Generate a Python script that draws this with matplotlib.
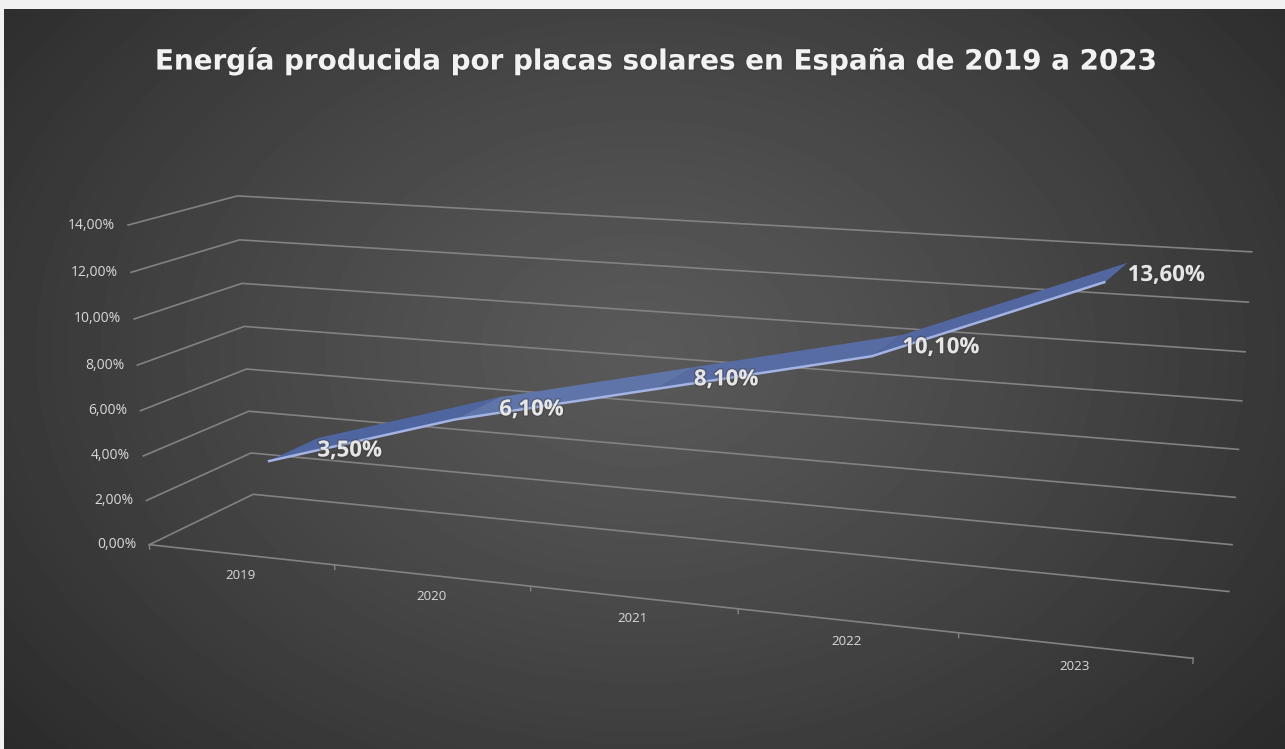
import matplotlib
matplotlib.use("Agg")
import matplotlib.pyplot as plt
import matplotlib.patheffects as pe
from matplotlib.patches import Polygon
import numpy as np

years = ["2019", "2020", "2021", "2022", "2023"]
shares = [3.5, 6.1, 8.1, 10.1, 13.6]
share_labels = ["3,50%", "6,10%", "8,10%", "10,10%", "13,60%"]
grid_values = [0, 2, 4, 6, 8, 10, 12, 14]
grid_labels = ["0,00%", "2,00%", "4,00%", "6,00%", "8,00%", "10,00%", "12,00%", "14,00%"]
title = "Energía producida por placas solares en España de 2019 a 2023"

VMAX = 14
RIBBON_FRONT = 0.30
RIBBON_BACK = 0.80
SEGMENT_COLORS = ["#4f65a0", "#5f74a8", "#586ca4", "#52669f"]

# camera calibration: (category 0-1, value, depth 0-1) seen at (px, py)
calibration = [
    ((0, 0, 0), (150, 545)), ((0, 14, 0), (128, 225)), ((0, 12, 0), (131, 272)),
    ((0, 0, 1), (253, 494)), ((0, 14, 1), (237, 196)), ((0, 12, 1), (240, 240)),
    ((1, 0, 1), (1229, 592)), ((1, 2, 1), (1232, 544)), ((1, 8, 1), (1242, 401)),
    ((1, 10, 1), (1245, 352)), ((1, 12, 1), (1248, 302)), ((1, 14, 1), (1252, 252)),
    ((1, 0, 0), (1193, 658)), ((0.8, 0, 0), (959, 633)), ((0.2, 0, 0), (334, 565)),
]


def fit_camera(points):
    """Fit a 3x4 projection matrix to the calibration points."""
    rows = []
    for (u, v, w), (px, py) in points:
        p = [u, v / VMAX, w, 1]
        px, py = px / 1000, py / 1000
        rows.append(p + [0, 0, 0, 0] + [-px * c for c in p])
        rows.append([0, 0, 0, 0] + p + [-py * c for c in p])
    _, _, vt = np.linalg.svd(np.array(rows))
    return vt[-1].reshape(3, 4)


camera = fit_camera(calibration)


def project(u, v, w):
    """Chart coordinates to figure pixels."""
    x, y, s = camera @ np.array([u, v / VMAX, w, 1])
    return x / s * 1000, y / s * 1000


fig = plt.figure(figsize=(12.85, 7.49), dpi=100, facecolor="#f1f1f1")
ax = fig.add_axes([0, 0, 1, 1])
ax.axis("off")

# radial background of the chart area
yy, xx = np.mgrid[9:749, 4:1285]
dist = np.sqrt(((xx - 640) / 850) ** 2 + ((yy - 350) / 620) ** 2)
shade = np.clip(0x59 - (0x59 - 0x2a) * dist ** 1.2, 0x2a, 0x59) / 255
ax.imshow(shade, cmap="gray", vmin=0, vmax=1, extent=(4, 1285, 749, 9),
          aspect="auto", interpolation="bilinear", zorder=0)
ax.set_xlim(0, 1285)
ax.set_ylim(749, 0)

grid_color = "#828282"
for value, label in zip(grid_values, grid_labels):
    pts = [project(0, value, 0), project(0, value, 1), project(1, value, 1)]
    ax.plot([p[0] for p in pts], [p[1] for p in pts], color=grid_color, lw=1.2, zorder=1)
    ax.annotate(label, xy=pts[0], xytext=(-9.5, 0), textcoords="offset points",
                ha="right", va="center", fontsize=10, family="Open Sans", color="#d9d9d9")

# category axis with its ticks
start, end = project(0, 0, 0), project(1, 0, 0)
ax.plot([start[0], end[0]], [start[1], end[1]], color=grid_color, lw=1.2, zorder=1)
for i in range(len(years) + 1):
    top = project(i / len(years), 0, 0)
    bottom = project(i / len(years), -0.2, 0)
    ax.plot([top[0], bottom[0]], [top[1], bottom[1]], color=grid_color, lw=1, zorder=1)

centers = [(i + 0.5) / len(years) for i in range(len(years))]
for u, year in zip(centers, years):
    ax.annotate(year, xy=project(u, 0, 0), xytext=(0, -15), textcoords="offset points",
                ha="center", va="center", fontsize=9.6, family="Open Sans", color="#d9d9d9")

# the 3D line is a flat ribbon with a lighter front edge
front = [project(u, s, RIBBON_FRONT) for u, s in zip(centers, shares)]
back = [project(u, s, RIBBON_BACK) for u, s in zip(centers, shares)]
for i in range(len(shares) - 1):
    ax.add_patch(Polygon([front[i], front[i + 1], back[i + 1], back[i]],
                         closed=True, facecolor=SEGMENT_COLORS[i], edgecolor="none", zorder=2))
ax.plot([p[0] for p in front], [p[1] for p in front], color="#a3b3e4", lw=1.8,
        solid_capstyle="butt", zorder=3)

shadow = [pe.withStroke(linewidth=2, foreground="#3a3a3a", alpha=0.4)]
for point, label in zip(back, share_labels):
    ax.annotate(label, xy=point, xytext=(0, -9.2), textcoords="offset points",
                ha="left", va="center", fontsize=16, fontweight="bold", family="Open Sans",
                color="#e6e6e6", path_effects=shadow, zorder=4)

ax.text(656, 61, title, ha="center", va="center", fontsize=20, fontweight="bold",
        family="DejaVu Sans", color="#f2f2f2", path_effects=shadow, zorder=4)

fig.savefig("out.png", dpi=100, facecolor=fig.get_facecolor())
